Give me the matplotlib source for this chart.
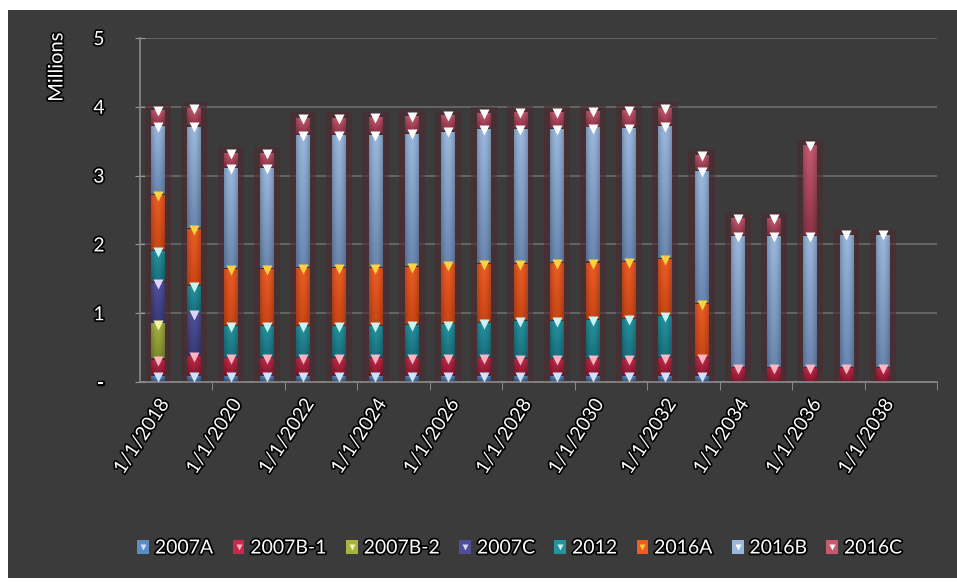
import numpy as np
import matplotlib
matplotlib.use("Agg")
import matplotlib.pyplot as plt
from matplotlib.colors import to_rgb
from matplotlib.lines import Line2D
from matplotlib.patches import Patch
from matplotlib.legend_handler import HandlerTuple
import matplotlib.patheffects as pe

plt.rcParams['font.family'] = ['Lato', 'DejaVu Sans']

years = [str(y) for y in range(2018, 2040)]
tick_labels = ["1/1/2018", "1/1/2020", "1/1/2022", "1/1/2024", "1/1/2026", "1/1/2028",
               "1/1/2030", "1/1/2032", "1/1/2034", "1/1/2036", "1/1/2038"]

# millions, one value per year 2018..2039
s2007A = [0.09, 0.09, 0.09, 0.09, 0.09, 0.09, 0.09, 0.09, 0.09, 0.09, 0.09,
          0.09, 0.09, 0.09, 0.09, 0.09, 0, 0, 0, 0, 0, 0]
s2007B1 = [0.24, 0.29, 0.26, 0.26, 0.26, 0.26, 0.26, 0.26, 0.26, 0.26, 0.25,
           0.25, 0.25, 0.25, 0.26, 0.26, 0.21, 0.21, 0.21, 0.21, 0.21, 0]
s2007B2 = [0.52, 0, 0, 0, 0, 0, 0, 0, 0, 0, 0,
           0, 0, 0, 0, 0, 0, 0, 0, 0, 0, 0]
s2007C = [0.60, 0.61, 0, 0, 0, 0, 0, 0, 0, 0, 0,
          0, 0, 0, 0, 0, 0, 0, 0, 0, 0, 0]
s2012 = [0.46, 0.41, 0.47, 0.47, 0.47, 0.47, 0.47, 0.48, 0.49, 0.51, 0.55,
         0.55, 0.57, 0.58, 0.61, 0, 0, 0, 0, 0, 0, 0]
s2016A = [0.81, 0.83, 0.83, 0.83, 0.84, 0.84, 0.84, 0.85, 0.87, 0.86, 0.83,
          0.84, 0.83, 0.83, 0.83, 0.79, 0, 0, 0, 0, 0, 0]
s2016B = [1.00, 1.49, 1.47, 1.47, 1.93, 1.93, 1.94, 1.94, 1.94, 1.96, 1.96,
          1.95, 1.96, 1.95, 1.93, 1.93, 1.92, 1.92, 1.92, 1.94, 1.94, 0]
s2016C = [0.24, 0.27, 0.22, 0.22, 0.25, 0.25, 0.25, 0.25, 0.23, 0.23, 0.25,
          0.25, 0.25, 0.26, 0.27, 0.24, 0.26, 0.26, 1.32, 0, 0, 0]

names = ["2007A", "2007B-1", "2007B-2", "2007C", "2012", "2016A", "2016B", "2016C"]
series = [s2007A, s2007B1, s2007B2, s2007C, s2012, s2016A, s2016B, s2016C]
# (top colour, bottom colour, marker colour)
styles = [
    ("#5b8cc4", "#3a5f90", "#d0e0ff"),
    ("#c42a4a", "#8e1830", "#ffb4c4"),
    ("#aab342", "#7f8a2e", "#f4f4a8"),
    ("#50509a", "#3a3a78", "#dcd4ff"),
    ("#25939f", "#19717f", "#c8f4f4"),
    ("#ec5c24", "#cc4616", "#ffd040"),
    ("#9ab8de", "#6a88b0", "#ffffff"),
    ("#c85a70", "#8e3448", "#ffffff"),
]

bg = "#3b3b3b"
fig = plt.figure(figsize=(9.57, 5.83), dpi=100, facecolor="white")
# dark chart area inside a thin white margin
fig.patches.append(plt.Rectangle((8 / 957, 5 / 583), 949 / 957, 568 / 583,
                                 transform=fig.transFigure, facecolor=bg,
                                 edgecolor="none", zorder=-10))
ax = fig.add_axes([140 / 957, 201 / 583, 797 / 957, 344 / 583])
ax.set_facecolor(bg)
ax.set_zorder(1)

x = np.arange(len(years))
width = 0.38
totals = np.sum(np.array(series), axis=0)

# reddish glow behind each column
ax.bar(x, np.where(totals > 0, totals + 0.08, 0), width=0.72,
       color="#4c2a2e", alpha=0.6, zorder=1, linewidth=0)

u = np.linspace(0, 1, 24)
shade = 0.8 + 0.2 * np.sin(np.pi * u)


def segment(xc, y0, y1, top, bot):
    t = np.array(to_rgb(top))
    b = np.array(to_rgb(bot))
    v = np.linspace(1, 0, 32)[:, None, None]
    col = v * t + (1 - v) * b
    img = np.clip(col * shade[None, :, None], 0, 1)
    ax.imshow(img, extent=[xc - width / 2, xc + width / 2, y0, y1],
              aspect="auto", interpolation="bilinear", zorder=3)


bottom = np.zeros(len(years))
for vals, (top, bot, mk) in zip(series, styles):
    vals = np.array(vals, dtype=float)
    for i in range(len(years)):
        if vals[i] > 0:
            segment(x[i], bottom[i] + 0.012, bottom[i] + vals[i] - 0.012, top, bot)
    tops = bottom + vals
    has = vals > 0
    ax.plot(x[has], tops[has] - 0.02, linestyle="none", marker="v", ms=7,
            mfc=mk, mec="none", zorder=4)
    bottom = tops

ax.set_xlim(-0.5, len(years) - 0.5)
ax.set_ylim(0, 5)

ax.set_yticks([0, 1, 2, 3, 4, 5])
ax.set_yticklabels(["-", "1", "2", "3", "4", "5"])
ax.yaxis.grid(True, color="#6c6c6c", linewidth=1.2, zorder=0)
ax.set_axisbelow(True)
ax.tick_params(axis="y", colors="#9a9a9a", labelcolor="white", labelsize=14,
               direction="inout", length=7, pad=22)

ax.set_xticks(x[::2])
ax.set_xticklabels(tick_labels, rotation=57, ha="right", rotation_mode="anchor")
ax.set_xticks(np.arange(1.5, len(years), 2), minor=True)
ax.tick_params(axis="x", which="major", length=0, labelcolor="white",
               labelsize=14, pad=10)
ax.tick_params(axis="x", which="minor", length=6, color="#9a9a9a")

for side in ("top", "right"):
    ax.spines[side].set_visible(False)
for side in ("left", "bottom"):
    ax.spines[side].set_color("#8a8a8a")
    ax.spines[side].set_linewidth(1.2)

outline = [pe.withStroke(linewidth=2.5, foreground="black")]
for t in ax.get_xticklabels() + ax.get_yticklabels():
    t.set_path_effects(outline)

ylab = fig.text(57 / 957, 1 - 67 / 583, "Millions", rotation=90, color="white",
                fontsize=14.5, ha="center", va="center")
ylab.set_path_effects(outline)

handles = []
for top, bot, mk in styles:
    sq = Patch(facecolor=top, edgecolor="none")
    tri = Line2D([], [], linestyle="none", marker="v", ms=5, mfc=mk, mec="none")
    handles.append((sq, tri))
leg = fig.legend(handles, names, loc="center", bbox_to_anchor=(0.543, 0.06),
                 ncol=8, frameon=False, fontsize=14, handlelength=0.6,
                 handleheight=0.7, handletextpad=0.3, columnspacing=1.0,
                 handler_map={tuple: HandlerTuple(ndivide=1, pad=0)})
for t in leg.get_texts():
    t.set_color("white")
    t.set_path_effects(outline)

fig.savefig("out.png", dpi=100, facecolor=fig.get_facecolor())
